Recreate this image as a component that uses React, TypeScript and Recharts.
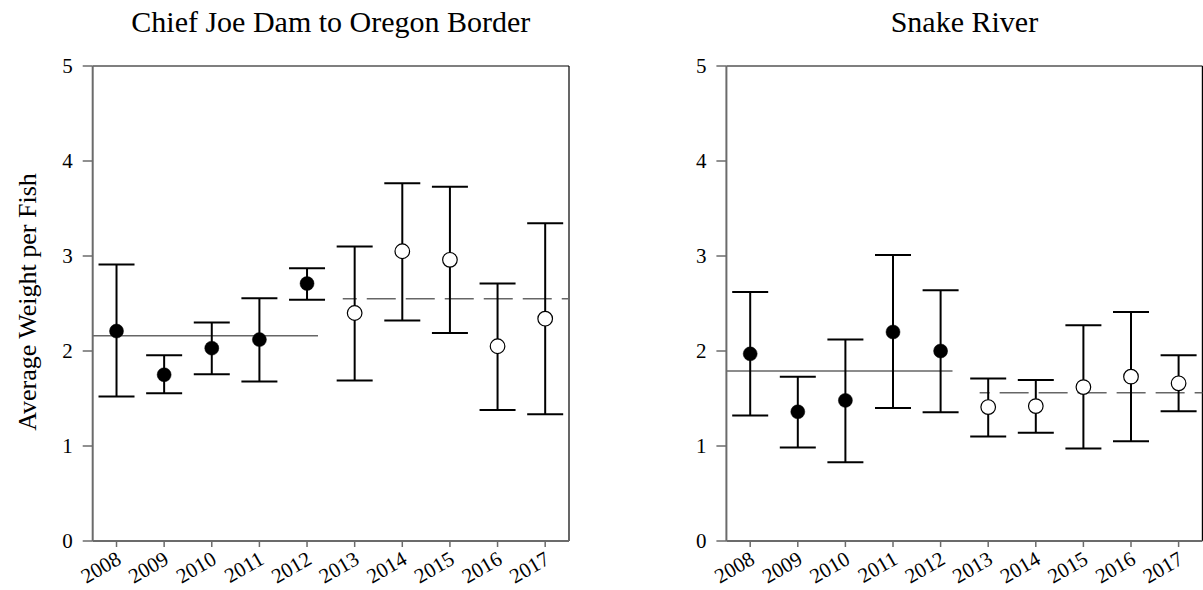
import React from 'react';
import {
  ComposedChart,
  XAxis,
  YAxis,
  Scatter,
  ErrorBar,
  ReferenceLine,
} from 'recharts';

// ---------- data ----------
const years = [2008, 2009, 2010, 2011, 2012, 2013, 2014, 2015, 2016, 2017];
const yTicks = [0, 1, 2, 3, 4, 5];

// Chief Joe Dam to Oregon Border
const cjMean = [2.21, 1.75, 2.03, 2.12, 2.71, 2.4, 3.05, 2.96, 2.05, 2.34];
const cjLow = [1.52, 1.555, 1.755, 1.68, 2.54, 1.69, 2.32, 2.19, 1.38, 1.335];
const cjHigh = [2.91, 1.955, 2.3, 2.555, 2.87, 3.1, 3.765, 3.73, 2.71, 3.345];
const cjEarlyMean = 2.16; // 2008-2012 average (solid line)
const cjLateMean = 2.55; // 2013-2017 average (dashed line)

// Snake River
const srMean = [1.97, 1.36, 1.48, 2.2, 2.0, 1.41, 1.42, 1.62, 1.73, 1.66];
const srLow = [1.32, 0.985, 0.83, 1.4, 1.355, 1.1, 1.14, 0.975, 1.05, 1.365];
const srHigh = [2.62, 1.73, 2.12, 3.01, 2.64, 1.71, 1.695, 2.27, 2.41, 1.955];
const srEarlyMean = 1.79;
const srLateMean = 1.56;

// extents of the period-mean lines (in year units)
const xMin = 2007.5;
const xMax = 2017.5;
const cjSolidEnd = 2012.23;
const cjDashStart = 2012.75;
const srSolidEnd = 2012.25;
const srDashStart = 2012.82;

const FONT = "'Liberation Serif', 'Times New Roman', serif";

type Pt = { year: number; mean: number; err: [number, number] };

const build = (mean: number[], low: number[], high: number[]): Pt[] =>
  years.map((year, i) => ({
    year,
    mean: mean[i],
    err: [mean[i] - low[i], high[i] - mean[i]],
  }));

const FilledDot = (props: any) => (
  <circle cx={props.cx} cy={props.cy} r={7} fill="#000" stroke="#000" strokeWidth={0.5} />
);
const OpenDot = (props: any) => (
  <circle cx={props.cx} cy={props.cy} r={7.3} fill="#fff" stroke="#000" strokeWidth={1.2} />
);

const XTick = (props: any) => {
  const { x, y, payload } = props;
  return (
    <g transform={`translate(${x + 6},${y + 14})`}>
      <text
        textAnchor="end"
        transform="rotate(-30)"
        fontSize={21}
        fontFamily={FONT}
        fill="#000"
      >
        {payload.value}
      </text>
    </g>
  );
};

type PanelProps = {
  title: string;
  mean: number[];
  low: number[];
  high: number[];
  earlyMean: number;
  lateMean: number;
  solidEnd: number;
  dashStart: number;
  dashOffset: number;
  width: number;
  marginLeft: number;
  marginRight: number;
  showYLabel: boolean;
};

const Panel = (p: PanelProps) => {
  const data = build(p.mean, p.low, p.high);
  const early = data.slice(0, 5);
  const late = data.slice(5);
  const plotLeft = p.marginLeft + 60;
  const plotRight = p.width - p.marginRight;
  const titleX = (plotLeft + plotRight) / 2;
  return (
    <ComposedChart
      width={p.width}
      height={590}
      style={{ overflow: 'visible' }}
      margin={{ top: 66, right: p.marginRight, bottom: 9, left: p.marginLeft }}
    >
      <XAxis
        dataKey="year"
        type="number"
        domain={[xMin, xMax]}
        ticks={years}
        allowDataOverflow
        height={40}
        tickSize={6}
        tickMargin={2}
        interval={0}
        axisLine={{ stroke: '#6b6b6b', strokeWidth: 2 }}
        tickLine={{ stroke: '#6b6b6b', strokeWidth: 1.5 }}
        tick={<XTick />}
      />
      <YAxis
        dataKey="mean"
        type="number"
        domain={[0, 5]}
        ticks={yTicks}
        allowDataOverflow
        width={60}
        tickSize={10}
        tickMargin={10}
        interval={0}
        axisLine={{ stroke: '#6b6b6b', strokeWidth: 2 }}
        tickLine={{ stroke: '#6b6b6b', strokeWidth: 1.5 }}
        tick={{ fontSize: 21, fill: '#000', fontFamily: FONT }}
        label={
          p.showYLabel
            ? {
                content: () => (
                  <text
                    x={35.5}
                    y={302}
                    transform="rotate(-90 35.5 302)"
                    textAnchor="middle"
                    fontSize={26}
                    fontFamily={FONT}
                    fill="#000"
                  >
                    Average Weight per Fish
                  </text>
                ),
              }
            : undefined
        }
      />
      {/* frame: top and right borders */}
      <ReferenceLine
        y={5}
        stroke="#000"
        strokeWidth={1.2}
        label={{
          content: () => (
            <text
              x={titleX}
              y={32}
              textAnchor="middle"
              fontSize={30}
              fontFamily={FONT}
              fill="#000"
            >
              {p.title}
            </text>
          ),
        }}
      />
      <ReferenceLine x={xMax} stroke="#000" strokeWidth={1.2} />
      {/* period means */}
      <ReferenceLine
        segment={[
          { x: xMin, y: p.earlyMean },
          { x: p.solidEnd, y: p.earlyMean },
        ]}
        stroke="#666"
        strokeWidth={1.5}
      />
      <ReferenceLine
        segment={[
          { x: p.dashStart, y: p.lateMean },
          { x: xMax, y: p.lateMean },
        ]}
        stroke="#666"
        strokeWidth={1.5}
        strokeDasharray="29 10"
        strokeDashoffset={p.dashOffset}
      />
      <Scatter data={early} dataKey="mean" shape={FilledDot} isAnimationActive={false}>
        <ErrorBar
          dataKey="err"
          direction="y"
          width={18}
          stroke="#000"
          strokeWidth={2}
          isAnimationActive={false}
        />
      </Scatter>
      <Scatter data={late} dataKey="mean" shape={OpenDot} isAnimationActive={false}>
        <ErrorBar
          dataKey="err"
          direction="y"
          width={18}
          stroke="#000"
          strokeWidth={2}
          isAnimationActive={false}
        />
      </Scatter>
    </ComposedChart>
  );
};

export default function App() {
  return (
    <div
      style={{
        position: 'absolute',
        left: 0,
        top: 0,
        width: 1203,
        height: 590,
        background: '#fff',
        fontFamily: FONT,
      }}
    >
      <div style={{ position: 'absolute', left: 0, top: 0 }}>
        <Panel
          title="Chief Joe Dam to Oregon Border"
          mean={cjMean}
          low={cjLow}
          high={cjHigh}
          earlyMean={cjEarlyMean}
          lateMean={cjLateMean}
          solidEnd={cjSolidEnd}
          dashStart={cjDashStart}
          dashOffset={15}
          width={600}
          marginLeft={32.7}
          marginRight={31}
          showYLabel
        />
      </div>
      <div style={{ position: 'absolute', left: 600, top: 0 }}>
        <Panel
          title="Snake River"
          mean={srMean}
          low={srLow}
          high={srHigh}
          earlyMean={srEarlyMean}
          lateMean={srLateMean}
          solidEnd={srSolidEnd}
          dashStart={srDashStart}
          dashOffset={19}
          width={603}
          marginLeft={66.4}
          marginRight={0.6}
          showYLabel={false}
        />
      </div>
    </div>
  );
}
